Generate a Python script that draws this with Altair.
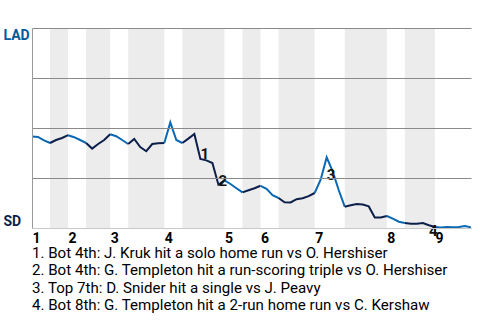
import altair as alt
import pandas as pd

# Win probability for LAD after each plate appearance (0 = SD wins, 1 = LAD wins)
wp = [0.458, 0.455, 0.438, 0.425, 0.44, 0.45, 0.464, 0.454, 0.44, 0.425,
      0.397, 0.42, 0.44, 0.469, 0.459, 0.44, 0.42, 0.445, 0.405, 0.384,
      0.42, 0.424, 0.425, 0.528, 0.44, 0.425, 0.447, 0.47, 0.345, 0.338,
      0.325, 0.2165, 0.238, 0.22, 0.199, 0.178, 0.189, 0.199, 0.211, 0.196,
      0.164, 0.15, 0.129, 0.128, 0.144, 0.149, 0.159, 0.175, 0.2415, 0.353,
      0.283, 0.19, 0.1065, 0.114, 0.12, 0.117, 0.108, 0.053, 0.053, 0.06,
      0.0465, 0.0315, 0.025, 0.0215, 0.0215, 0.025, 0.014, 0.005, 0.003, 0.005,
      0.004, 0.005, 0.01, 0.003]

# Half-inning boundaries (plate-appearance index)
half_bounds = [0, 3, 6, 9, 13, 16, 22, 25, 32, 35, 38, 41, 47, 52, 59, 62, 67, 73]

inning_starts = [0, 6, 13, 22, 32, 38, 47, 59, 67]
inning_names = ["1", "2", "3", "4", "5", "6", "7", "8", "9"]

event_names = ["1", "2", "3", "4"]
event_idx = [28, 31, 49, 66]
event_label_wp = [0.345, 0.21, 0.238, -0.042]

notes = [
    "1. Bot 4th: J. Kruk hit a solo home run vs O. Hershiser",
    "2. Bot 4th: G. Templeton hit a run-scoring triple vs O. Hershiser",
    "3. Top 7th: D. Snider hit a single vs J. Peavy",
    "4. Bot 8th: G. Templeton hit a 2-run home run vs C. Kershaw",
]

LAD_BLUE = "#005A9C"
SD_NAVY = "#0C1F4A"
LINE_BLUE = "#0A68B4"

rows = []
for h in range(len(half_bounds) - 1):
    s, e = half_bounds[h], half_bounds[h + 1]
    side = "top" if h % 2 == 0 else "bot"
    for i in range(s, e + 1):
        rows.append({"event": i, "wp": wp[i], "half": h, "side": side})
line_df = pd.DataFrame(rows)

band_df = pd.DataFrame({
    "x0": [half_bounds[h] for h in range(1, len(half_bounds) - 1, 2)],
    "x1": [half_bounds[h + 1] for h in range(1, len(half_bounds) - 1, 2)],
})
band_df["lo"] = 0
band_df["hi"] = 1

ev_df = pd.DataFrame({"label": event_names, "event": event_idx, "wp": event_label_wp})

xscale = alt.Scale(domain=[0, len(wp) - 1], nice=False, zero=False)
yscale = alt.Scale(domain=[0, 1], nice=False)

label_expr = "[" + ",".join("'" + n + "'" for n in inning_names) + "][indexof([" + \
    ",".join(str(v) for v in inning_starts) + "], datum.value)]"

xaxis = alt.Axis(values=inning_starts, labelExpr=label_expr, title=None, grid=False,
                 ticks=False, domainColor="#c8c8c8", labelAlign="left", labelFontWeight="bold",
                 labelFontSize=14, labelColor="#000", labelFont="Roboto", labelPadding=3,
                 labelFlush=False, labelOverlap=False)
yaxis = alt.Axis(values=[0, 0.25, 0.5, 0.75, 1],
                 labelExpr="datum.value == 1 ? 'LAD' : (datum.value == 0 ? 'SD' : '')",
                 title=None, ticks=False, domainColor="#999", labelFlush=True,
                 labelAlign="left", labelPadding=29,
                 labelFontWeight="bold", labelFontSize=14, labelFont="Roboto",
                 labelColor={"condition": {"test": "datum.value === 1", "value": LAD_BLUE},
                             "value": SD_NAVY},
                 gridColor={"condition": {"test": "datum.value === 0", "value": "#c8c8c8"},
                            "value": "#8a8a8a"},
                 zindex=1)

bands = alt.Chart(band_df).mark_rect(color="#ececec").encode(
    x=alt.X("x0:Q", scale=xscale, axis=xaxis),
    x2="x1:Q",
    y=alt.Y("lo:Q", scale=yscale, axis=yaxis),
    y2="hi:Q",
)

line = alt.Chart(line_df).mark_line(strokeWidth=2).encode(
    x=alt.X("event:Q", scale=xscale),
    y=alt.Y("wp:Q", scale=yscale),
    detail="half:N",
    color=alt.Color("side:N", scale=alt.Scale(domain=["top", "bot"], range=[LINE_BLUE, SD_NAVY]),
                    legend=None),
)

labels = alt.Chart(ev_df).mark_text(align="left", baseline="alphabetic", fontSize=15,
                                     fontWeight="bold", font="Roboto", color="#111").encode(
    x=alt.X("event:Q", scale=xscale),
    y=alt.Y("wp:Q", scale=yscale),
    text="label:N",
)

chart = alt.layer(bands, line, labels).properties(
    width=439, height=200,
    autosize=alt.AutoSizeParams(type="none"),
    padding={"left": 32, "top": 28, "right": 9, "bottom": 92},
    title=alt.TitleParams(text=notes, orient="bottom", anchor="start", frame="group",
                          fontSize=15.1, font="Roboto", fontWeight="normal", color="#000",
                          lineHeight=17.4, offset=1),
).configure_view(strokeWidth=0)

chart.save("out.html", embed_options={"renderer": "svg", "actions": False})
